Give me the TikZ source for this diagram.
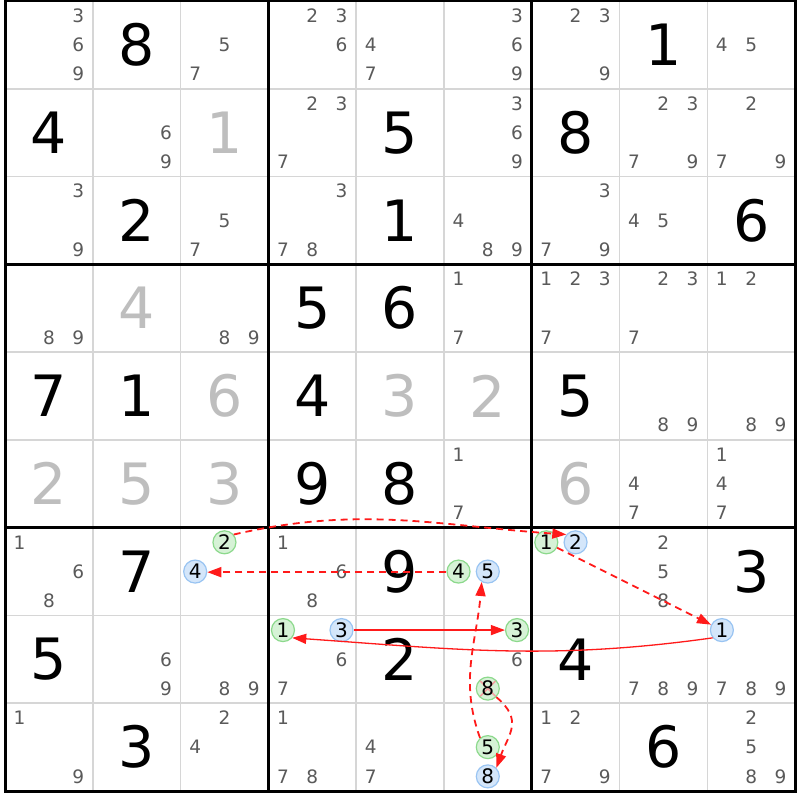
\documentclass[tikz,border=0pt]{standalone}
\usepackage{fontspec}
\setmainfont{DejaVu Sans}
\usetikzlibrary{arrows.meta}
\definecolor{candgray}{HTML}{5A5A5A}
\definecolor{solgray}{HTML}{BEBEBE}
\definecolor{gridgray}{HTML}{D6D6D6}
\definecolor{onfill}{HTML}{D6F2D6}
\definecolor{ondraw}{HTML}{8CD98C}
\definecolor{offfill}{HTML}{D4E6FA}
\definecolor{offdraw}{HTML}{99C4F2}
\definecolor{linkred}{HTML}{FF1A1A}
\definecolor{crosspink}{HTML}{F2A0A0}
\newcommand\sdG[3]{\node[given] (d-#1-#2) at ({#2-0.5},{#1-0.5}) {#3};}
\newcommand\sdS[3]{\node[solved] (d-#1-#2) at ({#2-0.5},{#1-0.5}) {#3};}
\newcommand\sdC[3]{\foreach \sdd in {#3}{%
  \pgfmathtruncatemacro\sdj{mod(\sdd-1,3)}%
  \pgfmathtruncatemacro\sdi{(\sdd-1)/3}%
  \node[cand] (c-#1-#2-\sdd) at ({#2-1+(2*\sdj+1)/6},{#1-1+(2*\sdi+1)/6}) {\sdd};}}
\newcommand\sdM[4]{%
  \pgfmathtruncatemacro\sdj{mod(#4-1,3)}%
  \pgfmathtruncatemacro\sdi{(#4-1)/3}%
  \node[#1] (m-#2-#3-#4) at ({#3-1+(2*\sdj+1)/6},{#2-1+(2*\sdi+1)/6}) {#4};}
\begin{document}
\begin{tikzpicture}[
  given/.style={font=\fontsize{57}{57}\selectfont, text=black, inner sep=0pt},
  solved/.style={given, text=solgray},
  cand/.style={font=\fontsize{18.5}{18.5}\selectfont, text=candgray, inner sep=0pt},
  oncand/.style={circle, draw=ondraw, fill=onfill, line width=1.2pt, minimum size=23pt, inner sep=0pt, font=\fontsize{20}{20}\selectfont, text=black},
  offcand/.style={oncand, draw=offdraw, fill=offfill},
  crossed/.style={path picture={\draw[crosspink, line width=1.6pt]
     (path picture bounding box.north west) -- (path picture bounding box.south east)
     (path picture bounding box.north east) -- (path picture bounding box.south west);}},
  thingrid/.style={draw=gridgray, line width=1.5pt},
  thickgrid/.style={draw=black, line width=3pt},
  strongl/.style={draw=linkred, line width=1.3pt, -{Triangle[length=14pt,width=10pt]}},
  weakl/.style={strongl, line width=1.8pt, dash pattern=on 7pt off 5pt},
]
\useasboundingbox[fill=white] (0pt,0pt) rectangle (800pt,800pt);
\begin{scope}[shift={(5pt,799pt)}, x=87.78pt, y=-87.78pt]
  \foreach \i in {1,2,4,5,7,8} {
    \draw[thingrid] (\i,0) -- (\i,9);
    \draw[thingrid] (0,\i) -- (9,\i);
  }
  \foreach \i in {3,6} {
    \draw[thickgrid] (\i,0) -- (\i,9);
    \draw[thickgrid] (0,\i) -- (9,\i);
  }
  \draw[thickgrid] (0,0) rectangle (9,9);
  % row 1
  \sdC{1}{1}{3,6,9} \sdG{1}{2}{8} \sdC{1}{3}{5,7} \sdC{1}{4}{2,3,6} \sdC{1}{5}{4,7}
  \sdC{1}{6}{3,6,9} \sdC{1}{7}{2,3,9} \sdG{1}{8}{1} \sdC{1}{9}{4,5}
  % row 2
  \sdG{2}{1}{4} \sdC{2}{2}{6,9} \sdS{2}{3}{1} \sdC{2}{4}{2,3,7} \sdG{2}{5}{5}
  \sdC{2}{6}{3,6,9} \sdG{2}{7}{8} \sdC{2}{8}{2,3,7,9} \sdC{2}{9}{2,7,9}
  % row 3
  \sdC{3}{1}{3,9} \sdG{3}{2}{2} \sdC{3}{3}{5,7} \sdC{3}{4}{3,7,8} \sdG{3}{5}{1}
  \sdC{3}{6}{4,8,9} \sdC{3}{7}{3,7,9} \sdC{3}{8}{4,5} \sdG{3}{9}{6}
  % row 4
  \sdC{4}{1}{8,9} \sdS{4}{2}{4} \sdC{4}{3}{8,9} \sdG{4}{4}{5} \sdG{4}{5}{6}
  \sdC{4}{6}{1,7} \sdC{4}{7}{1,2,3,7} \sdC{4}{8}{2,3,7} \sdC{4}{9}{1,2}
  % row 5
  \sdG{5}{1}{7} \sdG{5}{2}{1} \sdS{5}{3}{6} \sdG{5}{4}{4} \sdS{5}{5}{3}
  \sdS{5}{6}{2} \sdG{5}{7}{5} \sdC{5}{8}{8,9} \sdC{5}{9}{8,9}
  % row 6
  \sdS{6}{1}{2} \sdS{6}{2}{5} \sdS{6}{3}{3} \sdG{6}{4}{9} \sdG{6}{5}{8}
  \sdC{6}{6}{1,7} \sdS{6}{7}{6} \sdC{6}{8}{4,7} \sdC{6}{9}{1,4,7}
  % row 7
  \sdC{7}{1}{1,6,8} \sdG{7}{2}{7} \sdM{oncand}{7}{3}{2} \sdM{offcand}{7}{3}{4}
  \sdC{7}{4}{1,6,8} \sdG{7}{5}{9} \sdM{oncand}{7}{6}{4} \sdM{offcand}{7}{6}{5}
  \sdM{oncand}{7}{7}{1} \sdM{offcand}{7}{7}{2} \sdC{7}{8}{2,5,8} \sdG{7}{9}{3}
  % row 8
  \sdG{8}{1}{5} \sdC{8}{2}{6,9} \sdC{8}{3}{8,9}
  \sdM{oncand}{8}{4}{1} \sdM{offcand}{8}{4}{3} \sdC{8}{4}{6,7}
  \sdG{8}{5}{2} \sdM{oncand}{8}{6}{3} \sdC{8}{6}{6} \sdM{oncand,crossed}{8}{6}{8}
  \sdG{8}{7}{4} \sdC{8}{8}{7,8,9} \sdM{offcand}{8}{9}{1} \sdC{8}{9}{7,8,9}
  % row 9
  \sdC{9}{1}{1,9} \sdG{9}{2}{3} \sdC{9}{3}{2,4} \sdC{9}{4}{1,7,8} \sdC{9}{5}{4,7}
  \sdM{oncand}{9}{6}{5} \sdM{offcand}{9}{6}{8} \sdC{9}{7}{1,2,7,9} \sdG{9}{8}{6}
  \sdC{9}{9}{2,5,8,9}
\end{scope}
% links
\draw[weakl] (m-7-3-2.40) to[out=13,in=176] (m-7-7-2.140);
\draw[weakl] (m-7-7-1) -- (m-8-9-1);
\draw[strongl] (m-8-9-1.-140) to[out=-172,in=-4] (m-8-4-1.-40);
\draw[strongl] (m-8-4-3) -- (m-8-6-3);
\draw[weakl] (m-8-6-8.-45) to[out=-40,in=70,looseness=1.3] (m-9-6-8.45);
\draw[weakl] (m-9-6-5.130) to[out=110,in=-95] (m-7-6-5.-120);
\draw[weakl] ([yshift=-0.6pt]m-7-6-4.west) -- ([yshift=-0.6pt]m-7-3-4.east);
\end{tikzpicture}
\end{document}
